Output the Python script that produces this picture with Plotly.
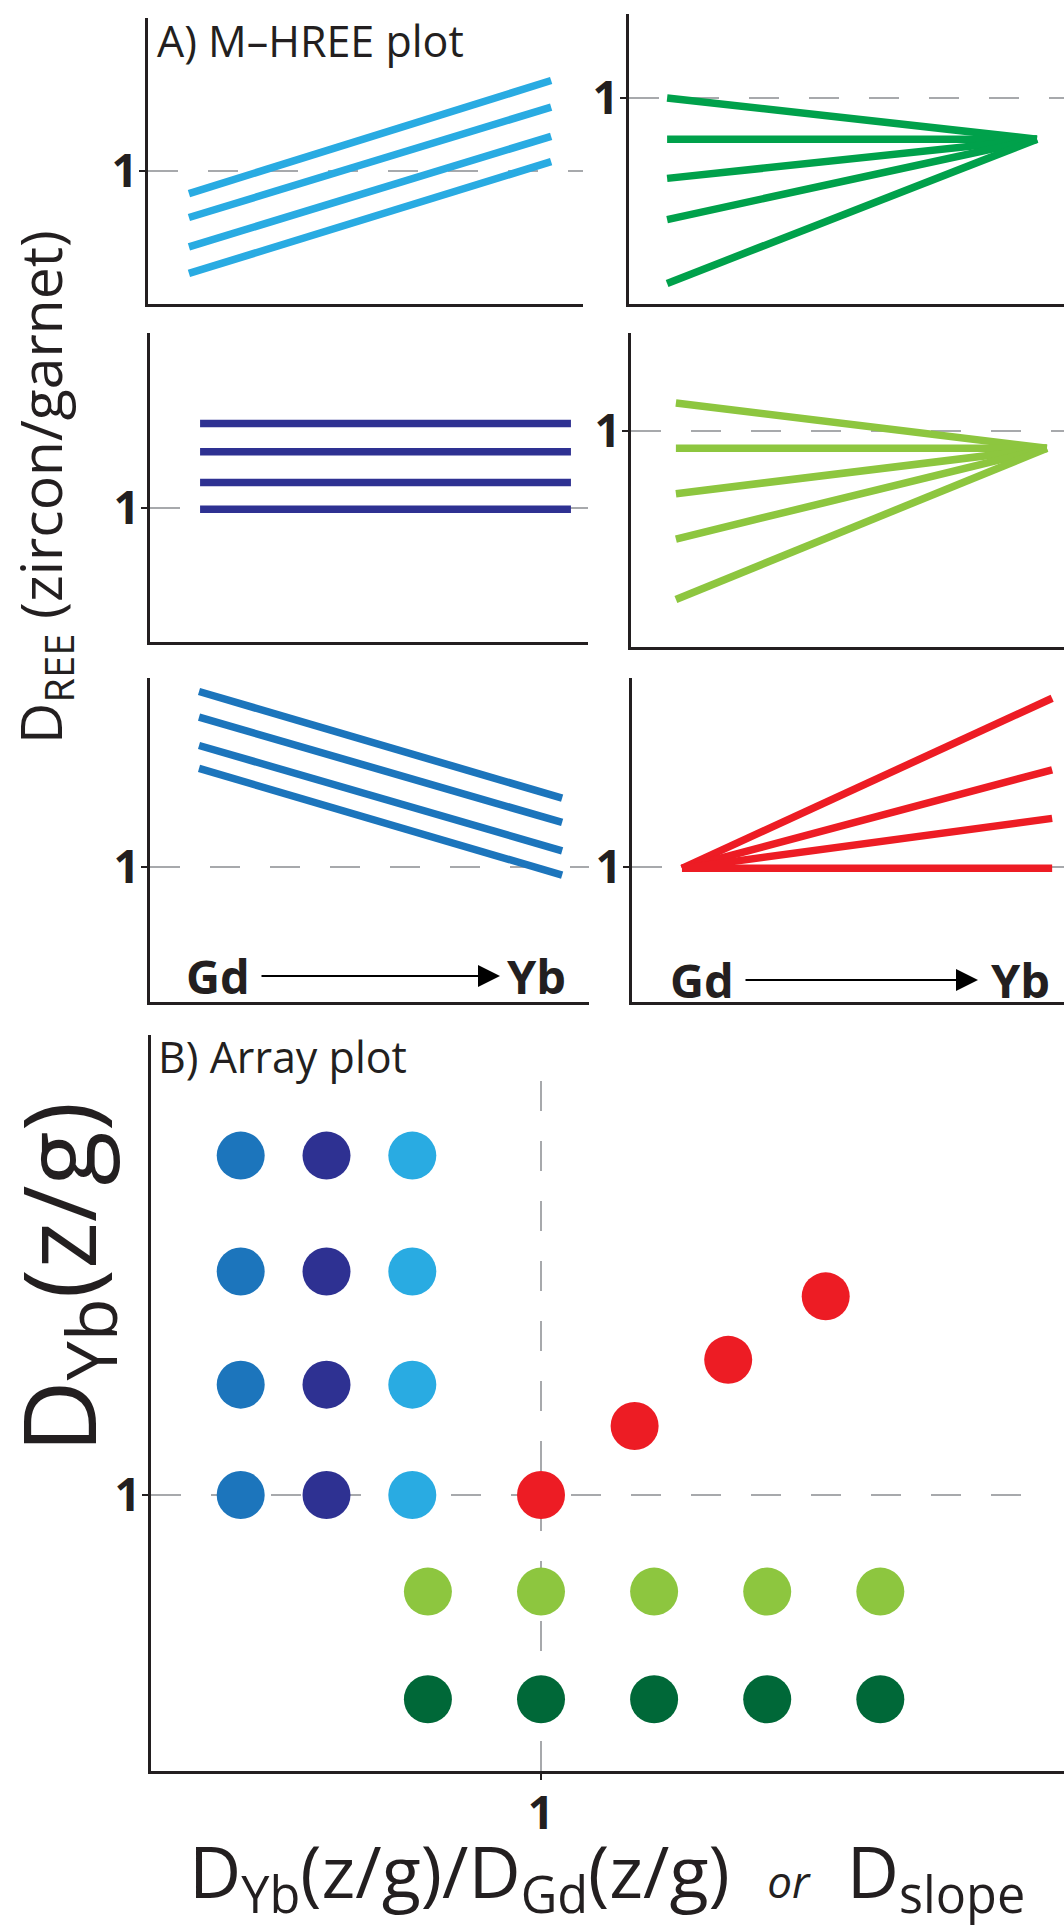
import plotly.graph_objects as go

W, H = 1064, 1928
FONT = "Open Sans"
INK = "#231F20"
DASH_COL = "#A7A9AC"

# ---------------- data ----------------
# Panel A: D_REE(zircon/garnet) at Gd (start) and Yb (end) of each M-HREE line
ELEM_LABELS = ["Gd", "Yb"]
ELEM_X = [0, 1]
REF_VALUE = 1

lightblue_gd = [0.83, 0.65, 0.43, 0.23]
lightblue_yb = [1.68, 1.48, 1.26, 1.07]

green_gd = [1.00, 0.80, 0.61, 0.41, 0.10]
green_yb = [0.80, 0.80, 0.80, 0.80, 0.80]

navy_gd = [1.63, 1.42, 1.19, 0.99]
navy_yb = [1.63, 1.42, 1.19, 0.99]

lightgreen_gd = [1.13, 0.92, 0.71, 0.50, 0.22]
lightgreen_yb = [0.92, 0.92, 0.92, 0.92, 0.92]

midblue_gd = [2.30, 2.11, 1.90, 1.73]
midblue_yb = [1.51, 1.33, 1.12, 0.94]

red_gd = [0.99, 0.99, 0.99, 0.99]
red_yb = [2.25, 1.72, 1.36, 0.99]

# Panel B: array plot, x = D_slope, y = D_Yb(z/g)
midblue_slope = [0.23, 0.23, 0.23, 0.23]
midblue_dyb = [1.00, 1.40, 1.81, 2.23]
navy_slope = [0.45, 0.45, 0.45, 0.45]
navy_dyb = [1.00, 1.40, 1.81, 2.23]
lightblue_slope = [0.67, 0.67, 0.67, 0.67]
lightblue_dyb = [1.00, 1.40, 1.81, 2.23]
red_slope = [1.00, 1.24, 1.48, 1.73]
red_dyb = [1.00, 1.25, 1.49, 1.72]
lightgreen_slope = [0.71, 1.00, 1.29, 1.58, 1.87]
lightgreen_dyb = [0.65, 0.65, 0.65, 0.65, 0.65]
darkgreen_slope = [0.71, 1.00, 1.29, 1.58, 1.87]
darkgreen_dyb = [0.26, 0.26, 0.26, 0.26, 0.26]

C_LIGHTBLUE = "#29ABE2"
C_GREEN = "#00A14B"
C_NAVY = "#2E3192"
C_LIGHTGREEN = "#8DC63F"
C_MIDBLUE = "#1C75BC"
C_RED = "#ED1C24"
C_DARKGREEN = "#006838"


def px(x):
    return x / W


def py(y):
    return 1 - y / H


fig = go.Figure()

# panel geometry: (axis suffix, x domain px, y domain px, x range, y range)
panels = [
    ("", (148, 583), (18, 304), (-0.113, 1.088), (0, 2.150)),
    ("2", (629, 1064), (14, 304), (-0.103, 1.073), (0, 1.408)),
    ("3", (150, 588), (333, 642), (-0.135, 1.046), (0, 2.306)),
    ("4", (631, 1064), (333, 647), (-0.121, 1.046), (0, 1.454)),
    ("5", (150, 589), (678, 1002), (-0.135, 1.074), (0, 2.400)),
    ("6", (632, 1064), (678, 1002), (-0.135, 1.032), (0, 2.400)),
    ("7", (151, 1064), (1035, 1771), (0, 2.341), (0, 2.667)),
]

line_sets = [
    ("", lightblue_gd, lightblue_yb, C_LIGHTBLUE),
    ("2", green_gd, green_yb, C_GREEN),
    ("3", navy_gd, navy_yb, C_NAVY),
    ("4", lightgreen_gd, lightgreen_yb, C_LIGHTGREEN),
    ("5", midblue_gd, midblue_yb, C_MIDBLUE),
    ("6", red_gd, red_yb, C_RED),
]

shapes = []
for suf, xd, yd, xr, yr in panels:
    xa = "xaxis" + suf
    ya = "yaxis" + suf
    is_b = suf == "7"
    fig.layout[xa] = dict(
        domain=[px(xd[0]), px(xd[1])], range=list(xr), anchor="y" + suf,
        showline=True, linecolor=INK, linewidth=3, showgrid=False, zeroline=False,
        showticklabels=is_b,
        tickvals=[REF_VALUE] if is_b else None, ticktext=["1"] if is_b else None,
        ticks="outside" if is_b else "", ticklen=6, tickwidth=2, tickcolor=INK,
        ticklabelstandoff=-6,
        tickfont=dict(family=FONT, size=46, color=INK, weight="bold"),
        fixedrange=True,
    )
    fig.layout[ya] = dict(
        domain=[py(yd[1]), py(yd[0])], range=list(yr), anchor="x" + suf,
        showline=True, linecolor=INK, linewidth=3, showgrid=False, zeroline=False,
        tickvals=[REF_VALUE], ticktext=["1"], ticks="outside", ticklen=6,
        tickwidth=2, tickcolor=INK, ticklabelstandoff=-8,
        tickfont=dict(family=FONT, size=46, color=INK, weight="bold"),
        fixedrange=True,
    )
    xref = "x" + suf
    yref = "y" + suf
    # reference dashed line at D = 1
    shapes.append(dict(type="line", layer="below", xref=xref + " domain", yref=yref,
                       x0=0, x1=0.975 if is_b else 1, y0=REF_VALUE, y1=REF_VALUE,
                       line=dict(color=DASH_COL, width=2, dash="30px,30px")))
    if is_b:
        shapes.append(dict(type="line", layer="below", xref=xref, yref=yref + " domain",
                           x0=REF_VALUE, x1=REF_VALUE, y0=0, y1=0.975,
                           line=dict(color=DASH_COL, width=2, dash="30px,30px")))

for suf, gd, yb, col in line_sets:
    for a, b in zip(gd, yb):
        fig.add_trace(go.Scatter(
            x=ELEM_X, y=[a, b], mode="lines", xaxis="x" + suf, yaxis="y" + suf,
            line=dict(color=col, width=7.5), showlegend=False, hoverinfo="skip"))

dot_sets = [
    (midblue_slope, midblue_dyb, C_MIDBLUE),
    (navy_slope, navy_dyb, C_NAVY),
    (lightblue_slope, lightblue_dyb, C_LIGHTBLUE),
    (red_slope, red_dyb, C_RED),
    (lightgreen_slope, lightgreen_dyb, C_LIGHTGREEN),
    (darkgreen_slope, darkgreen_dyb, C_DARKGREEN),
]
for xs, ys, col in dot_sets:
    fig.add_trace(go.Scatter(
        x=xs, y=ys, mode="markers", xaxis="x7", yaxis="y7",
        marker=dict(color=col, size=48, line=dict(width=0)),
        showlegend=False, hoverinfo="skip", cliponaxis=False))

annotations = []


def txt(text, x, y, size, xanchor="center", yanchor="middle", angle=0, bold=False):
    annotations.append(dict(
        text=text, x=px(x), y=py(y), xref="paper", yref="paper",
        xanchor=xanchor, yanchor=yanchor, showarrow=False, textangle=angle,
        font=dict(family=FONT, size=size, color=INK, weight="bold" if bold else "normal")))


txt("A) M\u2013HREE plot", 155, 40, 43, xanchor="left")
txt("B) Array plot", 156, 1056, 43, xanchor="left")

# Gd -> Yb labels with arrows in bottom panels (arrow drawn from the "Gd" label)
for gx, yx, a1, yy in [(218, 536, 500, 976), (702, 1020, 978, 980)]:
    annotations.append(dict(
        text=ELEM_LABELS[0], x=px(a1), y=py(yy), xref="paper", yref="paper",
        ax=gx - a1, ay=0, showarrow=True, arrowhead=2, arrowsize=2.2,
        arrowwidth=2, arrowcolor="#000000", standoff=0, startstandoff=10,
        font=dict(family=FONT, size=47, color=INK, weight="bold")))
    txt(ELEM_LABELS[1], yx, yy, 47, bold=True)

txt("D<sub>REE</sub> (zircon/garnet)", 43, 487, 57, angle=-90)
txt("D<sub>Yb</sub>(z/g)", 63, 1278, 100, angle=-90)
txt("D<sub>Yb</sub>(z/g)/D<sub>Gd</sub>(z/g)&nbsp;&nbsp;"
    "<span style='font-size:44px'><i>or</i></span>&nbsp;&nbsp;D<sub>slope</sub>",
    607, 1874, 72)

fig.update_layout(
    width=W, height=H, margin=dict(l=0, r=0, t=0, b=0),
    paper_bgcolor="white", plot_bgcolor="rgba(0,0,0,0)",
    shapes=shapes, annotations=annotations, showlegend=False,
)

fig.write_html(
    "out.html",
    config={"displayModeBar": False, "staticPlot": True},
    post_script="document.body.style.margin='0';document.body.style.overflow='hidden';",
)
